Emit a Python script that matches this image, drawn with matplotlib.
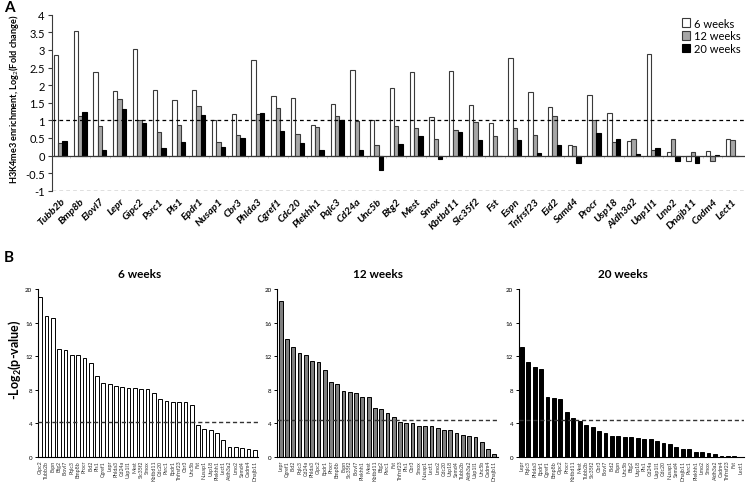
import matplotlib
matplotlib.use('Agg')
import matplotlib.pyplot as plt
import numpy as np
from matplotlib.ticker import MultipleLocator, FormatStrFormatter

plt.rcParams['font.family'] = ['Lato', 'DejaVu Sans']
plt.rcParams['mathtext.fontset'] = 'custom'
plt.rcParams['mathtext.rm'] = 'Lato'
plt.rcParams['mathtext.bf'] = 'Lato:bold'

# panel A: H3K4me3 enrichment, log2 fold change
genes_a = ['Tubb2b', 'Bmp8b', 'Elovl7', 'Lepr', 'Gipc2', 'Psrc1', 'Pls1', 'Epdr1',
           'Nusap1', 'Cbr3', 'Phlda3', 'Cgref1', 'Cdc20', 'Plekhh1', 'Pqlc3', 'Cd24a',
           'Unc5b', 'Btg2', 'Mest', 'Smox', 'Kbtbd11', 'Slc35f2', 'Fst', 'Espn',
           'Tnfrsf23', 'Eid2', 'Samd4', 'Procr', 'Usp18', 'Aldh3a2', 'Uap1l1', 'Lmo2',
           'Dnajb11', 'Cadm4', 'Lect1']
enrich_6 = [2.85, 3.53, 2.37, 1.84, 3.03, 1.87, 1.57, 1.85, 1.02, 1.18, 2.71, 1.68,
            1.63, 0.88, 1.45, 2.44, 1.0, 1.92, 2.36, 1.08, 2.4, 1.44, 0.91, 2.78,
            1.79, 1.39, 0.3, 1.73, 1.22, 0.4, 2.88, 0.11, -0.15, 0.12, 0.46]
enrich_12 = [0.35, 1.12, 0.84, 1.6, 1.02, 0.68, 0.86, 1.42, 0.37, 0.59, 1.19, 1.35,
             0.62, 0.82, 1.11, 0.97, 0.3, 0.85, 0.77, 0.48, 0.73, 0.94, 0.56, 0.78,
             0.57, 1.13, 0.28, 1.02, 0.39, 0.47, 0.17, 0.47, 0.1, -0.17, 0.45]
enrich_20 = [0.42, 1.25, 0.17, 1.31, 0.92, 0.21, 0.37, 1.14, 0.25, 0.5, 1.22, 0.71,
             0.35, 0.15, 1.02, 0.16, -0.4, 0.33, 0.55, -0.1, 0.68, 0.44, -0.02, 0.43,
             0.08, 0.3, -0.22, 0.64, 0.47, 0.05, 0.2, -0.15, -0.2, 0.01, -0.01]

# panel B: -log2(p-value), sorted per time point
genes_6 = ['Gipc2', 'Tubb2b', 'Espn', 'Btg2', 'Elovl7', 'Pqlc3', 'Bmp8b', 'Procr',
           'Eid2', 'Pls1', 'Cgref1', 'Lepr', 'Phlda3', 'Cd24a', 'Uap1l1', 'Mest',
           'Slc35f2', 'Smox', 'Kbtbd11', 'Cdc20', 'Psrc1', 'Epdr1', 'Tnfrsf23', 'Cbr3',
           'Unc5b', 'Fst', 'Nusap1', 'Usp18', 'Plekhh1', 'Lect1', 'Aldh3a2', 'Lmo2',
           'Samd4', 'Cadm4', 'Dnajb11']
pval_6 = [19.1, 16.8, 16.5, 12.8, 12.7, 12.2, 12.1, 11.8, 11.2, 9.7, 8.8, 8.7, 8.4,
          8.35, 8.25, 8.2, 8.15, 8.1, 7.6, 6.9, 6.65, 6.6, 6.6, 6.5, 6.2, 3.8, 3.3,
          3.2, 2.9, 2.0, 1.2, 1.15, 1.1, 1.0, 0.85]
genes_12 = ['Lepr', 'Cgref1', 'Eid2', 'Pqlc3', 'Cd24a', 'Phlda3', 'Gipc2', 'Epdr1',
            'Procr', 'Bmp8b', 'Espn', 'Slc35f2', 'Elovl7', 'Plekhh1', 'Mest', 'Kbtbd11',
            'Btg2', 'Psrc1', 'Fst', 'Tnfrsf23', 'Pls1', 'Cbr3', 'Smox', 'Nusap1', 'Lect1',
            'Lmo2', 'Cdc20', 'Usp18', 'Samd4', 'Tubb2b', 'Aldh3a2', 'Uap1l1', 'Unc5b',
            'Cadm4', 'Dnajb11']
pval_12 = [18.6, 14.0, 13.1, 12.4, 12.2, 11.4, 11.3, 10.3, 8.9, 8.7, 7.9, 7.7, 7.6,
           7.2, 7.1, 5.8, 5.7, 5.2, 4.8, 4.2, 4.1, 4.1, 3.7, 3.7, 3.65, 3.4, 3.2, 3.2,
           2.8, 2.6, 2.45, 2.4, 1.8, 0.9, 0.35]
genes_20 = ['Lepr', 'Pqlc3', 'Phlda3', 'Epdr1', 'Cgref1', 'Bmp8b', 'Gipc2', 'Procr',
            'Kbtbd11', 'Mest', 'Tubb2b', 'Slc35f2', 'Cbr3', 'Elovl7', 'Eid2', 'Espn',
            'Unc5b', 'Btg2', 'Usp18', 'Pls1', 'Cd24a', 'Uap1l1', 'Cdc20', 'Nusap1',
            'Samd4', 'Dnajb11', 'Psrc1', 'Plekhh1', 'Lmo2', 'Smox', 'Aldh3a2', 'Cadm4',
            'Tnfrsf23', 'Fst', 'Lect1']
pval_20 = [13.1, 11.3, 10.7, 10.5, 7.1, 7.0, 6.9, 5.4, 4.6, 4.3, 3.8, 3.6, 3.1, 2.9,
           2.5, 2.45, 2.4, 2.35, 2.3, 2.2, 2.2, 1.9, 1.7, 1.6, 1.2, 1.0, 0.9, 0.6, 0.55,
           0.45, 0.4, 0.15, 0.12, 0.08, 0.05]
thresholds = [4.2, 4.4, 4.4]

W, H = 746, 485
fig = plt.figure(figsize=(W / 100, H / 100), dpi=100)

def rect(x0, y0, x1, y1):
    # pixel box -> figure fraction
    return [x0 / W, 1 - y1 / H, (x1 - x0) / W, (y1 - y0) / H]

# ---- panel A
axA = fig.add_axes(rect(51.7, 15.7, 745, 191.7))
x = np.arange(len(genes_a))
w = 0.22
b6 = axA.bar(x - w, enrich_6, w, color='white', edgecolor='#3a3a3a', lw=0.8, label='6 weeks')
b12 = axA.bar(x, enrich_12, w, color='#a6a6a6', edgecolor='#3a3a3a', lw=0.8, label='12 weeks')
b20 = axA.bar(x + w, enrich_20, w, color='black', edgecolor='black', lw=0.8, label='20 weeks')
axA.axhline(0, color='#3a3a3a', lw=0.9, zorder=3)
for yy in [1, -1]:
    axA.axhline(yy, color='black', ls=(0, (3, 2.5)), lw=0.9)
# faint separators between groups
axA.vlines(x[:-1] + 0.5, -0.06, 0, color='#c8c8c8', lw=0.6)
axA.set_xlim(-0.435, 34.64)
axA.set_ylim(-1, 4)
axA.yaxis.set_major_locator(MultipleLocator(0.5))
axA.yaxis.set_major_formatter(FormatStrFormatter('%g'))
for s in ['top', 'right', 'bottom']:
    axA.spines[s].set_visible(False)
axA.spines['left'].set_color('#3a3a3a')
axA.tick_params(axis='y', labelsize=8, length=3, width=0.8, color='#3a3a3a', pad=2)
axA.set_xticks(x)
axA.set_xticklabels(genes_a, rotation=45, ha='right', va='top', rotation_mode='anchor',
                    fontsize=7.5, fontweight='bold', fontstyle='italic')
axA.tick_params(axis='x', length=0, pad=4)
axA.legend(handles=[b6, b12, b20], loc='upper left', bbox_to_anchor=(676 / W, 1 - 13 / H),
           bbox_transform=fig.transFigure, frameon=False, fontsize=8,
           handlelength=0.8, handleheight=0.8, handletextpad=0.3, labelspacing=0.15,
           borderpad=0)
fig.text(14 / W, 1 - 99 / H, 'H3K4me3 enrichment, Log$_2$(Fold change)', rotation=90,
         ha='center', va='center', fontsize=6.6, fontweight='bold')
fig.text(4 / W, 1 - 8 / H, 'A', fontsize=11, fontweight='bold', va='center')

# ---- panel B
b_boxes = [(38, 258, -0.35, 34.5), (277.3, 498, -0.55, 34.6), (518.7, 744, -0.47, 34.5)]
b_data = [(genes_6, pval_6, 'white', '6 weeks', 140),
          (genes_12, pval_12, '#7f7f7f', '12 weeks', 378),
          (genes_20, pval_20, 'black', '20 weeks', 623)]
for (x0, x1, lo, hi), (gn, vals, col, ttl, tx), thr in zip(b_boxes, b_data, thresholds):
    ax = fig.add_axes(rect(x0, 290, x1, 458))
    xb = np.arange(len(gn))
    ax.bar(xb, vals, 0.6, color=col, edgecolor='black', lw=0.7)
    ax.axhline(thr, color='#333333', ls=(0, (3, 2)), lw=1.0, zorder=3)
    ax.set_xlim(lo, hi)
    ax.set_ylim(0, 20)
    ax.set_yticks([0, 4, 8, 12, 16, 20])
    for s in ['top', 'right']:
        ax.spines[s].set_visible(False)
    ax.tick_params(axis='y', labelsize=4.5, length=2, width=0.7, pad=2)
    ax.set_xticks(xb)
    ax.set_xticklabels(gn, rotation=90, fontsize=3.8, color='#333333')
    ax.tick_params(axis='x', length=0, pad=2)
    fig.text(tx / W, 1 - 274 / H, ttl, ha='center', va='center', fontsize=8.5,
             fontweight='bold')

fig.text(15 / W, 1 - 360 / H, r'-Log$_\mathbf{2}$(p-value)', rotation=90, ha='center',
         va='center', fontsize=9, fontweight='bold')
fig.text(4 / W, 1 - 258 / H, 'B', fontsize=11, fontweight='bold', va='center')

fig.savefig('out.png', dpi=100)
